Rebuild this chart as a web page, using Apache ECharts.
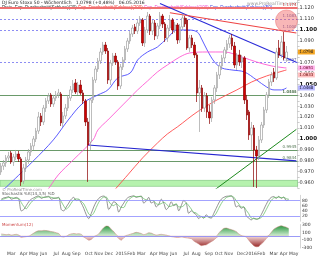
<!DOCTYPE html>
<html><head><meta charset="utf-8">
<script src="https://cdn.jsdelivr.net/npm/echarts@6/dist/echarts.min.js"></script>
<style>html,body{margin:0;padding:0;background:#fff}#c{width:320px;height:256px}</style>
</head><body><div id="c"></div>
<script>
// ---------- data ----------
const startWeek = '2014-02-03';
const weekCount = 120;
const monthLabels = ['Jan','Feb','Mar','Apr','May','Jun','Jul','Aug','Sep','Oct','Nov','Dec'];
// weekly candles [open, close, low, high]
const candles = [
[0.9697,0.9752,0.9670,0.9780],[0.9752,0.9780,0.9716,0.9807],[0.9780,0.9826,0.9743,0.9853],[0.9826,0.9844,0.9798,0.9881],
[0.9872,0.9789,0.9771,0.9890],[0.9789,0.9835,0.9752,0.9862],[0.9835,0.9862,0.9807,0.9899],[0.9862,0.9817,0.9789,0.9890],
[0.9817,0.9606,0.9569,0.9835],[0.9615,0.9734,0.9587,0.9771],[0.9734,0.9807,0.9697,0.9835],[0.9807,0.9881,0.9771,0.9908],
[0.9881,0.9936,0.9844,0.9963],[0.9936,1.0000,0.9899,1.0027],[1.0000,1.0073,0.9972,1.0101],[1.0073,1.0202,1.0046,1.0248],
[1.0211,1.0156,1.0119,1.0238],[1.0156,1.0284,1.0128,1.0312],[1.0284,1.0349,1.0248,1.0376],[1.0349,1.0394,1.0321,1.0422],
[1.0404,1.0321,1.0294,1.0422],[1.0321,1.0376,1.0294,1.0404],[1.0376,1.0404,1.0349,1.0440],[1.0404,1.0422,1.0376,1.0459],
[1.0413,1.0147,1.0119,1.0431],[1.0147,1.0211,1.0110,1.0248],[1.0211,1.0284,1.0183,1.0321],[1.0284,1.0376,1.0257,1.0404],
[1.0376,1.0450,1.0349,1.0486],[1.0450,1.0505,1.0422,1.0541],[1.0514,1.0431,1.0413,1.0550],[1.0431,1.0495,1.0404,1.0523],
[1.0495,1.0422,1.0404,1.0541],[1.0422,1.0349,1.0321,1.0450],[1.0349,1.0156,1.0119,1.0367],[1.0156,0.9945,0.9606,1.0193],
[0.9972,1.0358,0.9899,1.0376],[1.0358,1.0541,1.0330,1.0569],[1.0541,1.0642,1.0514,1.0670],[1.0642,1.0716,1.0615,1.0743],
[1.0716,1.0798,1.0688,1.0835],[1.0798,1.0862,1.0771,1.0890],[1.0862,1.0807,1.0780,1.0890],[1.0807,1.0541,1.0505,1.0835],
[1.0541,1.0697,1.0495,1.0725],[1.0697,1.0761,1.0670,1.0789],[1.0761,1.0706,1.0679,1.0789],[1.0706,1.0486,1.0450,1.0725],
[1.0486,1.0661,1.0459,1.0688],[1.0661,1.0725,1.0633,1.0752],[1.0725,1.0826,1.0706,1.0853],[1.0826,1.0899,1.0798,1.0927],
[1.0899,1.0963,1.0872,1.0991],[1.0963,1.1018,1.0936,1.1046],[1.1028,1.0991,1.0963,1.1055],[1.0991,1.1064,1.0963,1.1092],
[1.1064,1.1101,1.1037,1.1128],[1.1092,1.0881,1.0853,1.1110],[1.0881,1.1000,1.0844,1.1028],[1.1000,1.1128,1.0972,1.1165],
[1.1128,1.0991,1.0954,1.1147],[1.0991,1.1064,1.0954,1.1092],[1.1064,1.0945,1.0908,1.1092],[1.0945,1.1037,1.0917,1.1064],
[1.1037,1.1128,1.1009,1.1165],[1.1128,1.1055,1.1018,1.1147],[1.1055,1.0927,1.0890,1.1073],[1.0927,1.1018,1.0890,1.1046],
[1.1018,1.1092,1.0991,1.1138],[1.1092,1.1000,1.0963,1.1110],[1.1000,1.1046,1.0972,1.1073],[1.1046,1.0908,1.0872,1.1064],
[1.0908,1.1028,1.0881,1.1055],[1.1028,1.1110,1.1000,1.1147],[1.1110,1.1055,1.1028,1.1128],[1.1092,1.0835,1.0817,1.1110],
[1.0835,1.0927,1.0798,1.0954],[1.0927,1.0862,1.0835,1.0954],[1.0862,1.0771,1.0743,1.0890],[1.0771,1.0422,1.0339,1.0789],
[1.0422,1.0468,1.0064,1.0541],[1.0468,1.0284,1.0248,1.0495],[1.0284,1.0394,1.0248,1.0431],[1.0394,1.0248,1.0193,1.0422],
[1.0248,1.0193,1.0138,1.0312],[1.0193,1.0358,1.0156,1.0385],[1.0358,1.0468,1.0321,1.0495],[1.0468,1.0587,1.0431,1.0615],
[1.0587,1.0670,1.0550,1.0706],[1.0670,1.0743,1.0633,1.0771],[1.0743,1.0817,1.0706,1.0844],[1.0817,1.0872,1.0780,1.0908],
[1.0872,1.0927,1.0835,1.0954],[1.0927,1.0853,1.0817,1.0963],[1.0853,1.0679,1.0651,1.0890],[1.0679,1.0771,1.0633,1.0789],
[1.0771,1.0706,1.0670,1.0817],[1.0706,1.0743,1.0651,1.0771],[1.0743,1.0358,1.0321,1.0761],[1.0358,1.0220,1.0174,1.0404],
[1.0248,1.0037,0.9991,1.0266],[1.0037,1.0101,0.9899,1.0156],[1.0101,0.9899,0.9560,1.0128],[0.9899,0.9844,0.9550,0.9936],
[0.9844,0.9991,0.9807,1.0027],[0.9991,1.0128,0.9963,1.0156],[1.0128,1.0266,1.0101,1.0294],[1.0266,1.0404,1.0238,1.0431],
[1.0404,1.0523,1.0376,1.0550],[1.0523,1.0587,1.0486,1.0615],[1.0615,1.0560,1.0523,1.0651],[1.0560,1.0798,1.0541,1.0835],
[1.0835,1.0771,1.0743,1.0908],[1.0771,1.0890,1.0743,1.0945],[1.0890,1.0743,1.0725,1.0982],[1.0743,1.0798,1.0706,1.0853]
];
// moving averages read at sample weeks [weekIndex, value]
const maBlue = [[0,0.9514],[13,0.9800],[21,0.9991],[27,1.0174],[33,1.0330],[39,1.0404],[43,1.0450],[47,1.0560],[52,1.0605],[55,1.0725],[59,1.0798],[63,1.0844],[67,1.0927],[71,1.1000],[75,1.1000],[79,1.0982],[81,1.0908],[83,1.0817],[86,1.0706],[89,1.0651],[93,1.0633],[98,1.0615],[103,1.0541],[107,1.0477],[110,1.0450],[113,1.0450],[115,1.0468]];
const maPink = [[14,0.9440],[18,0.9514],[23,0.9670],[29,0.9807],[37,0.9991],[39,1.0083],[43,1.0174],[47,1.0266],[51,1.0358],[55,1.0450],[59,1.0532],[63,1.0615],[67,1.0679],[72,1.0752],[76,1.0789],[83,1.0798],[90,1.0798],[97,1.0752],[103,1.0706],[109,1.0670],[115,1.0651]];
const maRed = [[45,0.9514],[51,0.9670],[57,0.9826],[63,0.9963],[67,1.0046],[71,1.0110],[79,1.0248],[87,1.0358],[95,1.0450],[101,1.0523],[107,1.0578],[115,1.0633]];
// trend lines [weekIndex, value]
const trendBlueUpper = [[64,1.1243],[119,1.0704]];
const trendRed = [[68,1.1158],[119,1.0972]];
const trendBlueLower = [[35,0.9945],[119,0.9799]];
const trendGreen = [[86,0.9532],[119,1.0088]];
// horizontal levels
const levelRed = 1.1174;
const levelsDotted = [1.1083, 1.1000, 1.0697];
const levelsGreen = [1.0431, 1.0366, 0.9945, 0.9844];
const supportBand = [0.9565, 0.9620];
const circleMark = [115, 1.1083];
// stochastic %K / %D
const stochK = [85,90,92,95,85,88,92,85,40,45,60,75,85,90,95,97,88,92,95,96,85,88,90,92,45,40,55,70,85,92,80,82,70,50,25,10,30,55,75,88,95,97,88,45,60,75,70,35,55,70,85,93,96,98,92,95,97,70,78,92,70,75,55,65,85,70,45,55,75,60,65,40,60,80,70,30,40,32,25,10,18,12,25,15,12,30,50,70,85,92,96,97,98,85,55,60,50,55,20,12,5,12,8,10,25,45,65,82,92,95,88,96,88,93,80,82];
const stochD = [82,86,89,92,91,89,88,88,72,57,48,60,73,83,90,94,93,92,92,94,92,90,88,90,76,59,47,55,70,82,86,85,77,67,48,28,22,32,53,73,86,93,93,77,64,60,68,60,53,53,70,83,91,96,95,95,95,87,82,80,80,79,67,65,68,73,67,57,58,63,67,55,55,60,70,60,47,34,32,22,18,13,18,17,17,19,31,50,68,82,91,95,97,93,79,67,55,55,42,29,12,10,8,10,14,27,45,64,80,90,92,93,91,92,87,85];
const stochLevels = [80, 20];
// momentum
const momentum = [60,50,40,50,30,40,50,30,-30,-20,-10,0,40,80,120,140,140,150,145,135,120,110,90,70,-10,-20,0,40,60,70,60,65,50,-20,-60,-100,-80,-20,20,60,150,220,260,250,180,120,40,-60,-100,-40,20,40,60,80,100,90,70,40,60,90,80,50,30,40,50,40,30,10,-10,-20,-30,-30,-20,-30,-40,-50,-60,-120,-160,-200,-240,-230,-220,-180,-140,-100,-40,80,150,200,210,190,170,150,120,60,20,0,-20,-100,-180,-240,-270,-260,-200,-140,-60,20,100,180,220,250,265,250,230,200];

// ---------- build ----------
const cats = [];
{ const d0 = new Date(startWeek + 'T00:00:00Z');
  for (let i = 0; i < weekCount; i++) { const d = new Date(d0.getTime() + i*7*86400000); cats.push(d.toISOString().slice(0,10)); } }
const isMonthStart = (idx) => idx > 0 && (+cats[idx].slice(8,10)) <= 7;
const monthText = (s) => { const m = +s.slice(5,7); return m === 1 ? s.slice(0,4) : monthLabels[m-1]; };
const padData = (arr) => arr.concat(new Array(weekCount - arr.length).fill('-'));
const momPos = padData(momentum.map(v => v > 0 ? v : 0));
const momNeg = padData(momentum.map(v => v < 0 ? v : 0));
const lastClose = candles[candles.length-1][1];
const lastOf = (arr) => arr[arr.length-1][1];

const chart = echarts.init(document.getElementById('c'), null, {renderer:'canvas'});
const FONT = 'DejaVu Sans';
const axisLblBase = {fontSize:5, color:'#333', fontFamily:FONT, margin:2};
const tag = (val, bg, fg) => ({coord:[weekCount-1, val], symbol:'rect', symbolSize:[17,5], symbolOffset:[10,0],
  itemStyle:{color:bg}, label:{show:true, position:'inside', formatter:val.toFixed(4), fontSize:4, color:fg||'#222', fontFamily:FONT}});
const lineS = (data, color, w, extra) => Object.assign({type:'line', data, symbol:'none', showSymbol:false, smooth:0.35, lineStyle:{color, width:w}, silent:true, z:3}, extra||{});

const option = {
  animation:false,
  backgroundColor:'#ffffff',
  textStyle:{fontFamily:FONT},
  grid:[
    {left:0, width:300, top:0, height:188},
    {left:0, width:300, top:195.3, height:25.9},
    {left:0, width:300, top:224.5, height:24.4}
  ],
  xAxis:[0,1,2].map(g => ({
    type:'category', gridIndex:g, data:cats, boundaryGap:true,
    axisLine:{show:g===2, lineStyle:{color:'#bbb', width:0.6}}, axisTick:{show:false},
    axisLabel: g===2 ? {show:true, fontSize:4.5, color:'#444', fontFamily:FONT, margin:3, hideOverlap:false,
      interval:(idx)=>isMonthStart(idx), formatter:(v)=>monthText(v)} : {show:false},
    splitLine:{show:false}
  })),
  yAxis:[
    {type:'value', gridIndex:0, position:'right', min:0.955, max:1.1275, interval:0.005, scale:true,
     axisLine:{show:true, lineStyle:{color:'#bbb', width:0.6}}, axisTick:{show:true, length:2, lineStyle:{color:'#999', width:0.5}},
     splitLine:{show:false},
     axisLabel:Object.assign({}, axisLblBase, {
       formatter:(v)=>{ const k=Math.round(v*1000); if (k%10!==0) return ''; const s=(k/1000).toFixed(3); return k%50===0 ? '{b|'+s+'}' : s; },
       rich:{b:{fontSize:5.5, fontWeight:'bold', color:'#111', fontFamily:FONT}}})},
    {type:'value', gridIndex:1, position:'right', min:0, max:100, interval:20,
     axisLine:{show:true, lineStyle:{color:'#bbb', width:0.6}}, axisTick:{show:false}, splitLine:{show:false},
     axisLabel:Object.assign({}, axisLblBase, {fontSize:4.5, formatter:(v)=> (v===0||v===100)?'':String(v)})},
    {type:'value', gridIndex:2, position:'right', min:-300, max:300, interval:200,
     axisLine:{show:true, lineStyle:{color:'#bbb', width:0.6}}, axisTick:{show:false}, splitLine:{show:false},
     axisLabel:Object.assign({}, axisLblBase, {fontSize:4.5})}
  ],
  series:[
    {type:'candlestick', xAxisIndex:0, yAxisIndex:0, data:padData(candles), barWidth:2, z:4,
     itemStyle:{color:'#ffffff', color0:'#d10000', borderColor:'#a0a0a0', borderColor0:'#8b0000', borderWidth:0.7},
     markPoint:{silent:true, animation:false, data:[tag(lastClose, '#f5a623', '#222')]},
     markLine:{symbol:'none', silent:true, z:2, animation:false,
       data:[
         {yAxis:levelRed, lineStyle:{color:'#f07070', width:2, type:'solid'}, label:{show:true, position:'insideEndTop', formatter:levelRed.toFixed(4), fontSize:4, color:'#c33', distance:1}},
         ...levelsDotted.map(v=>({yAxis:v, lineStyle:{color:'#7070f0', width:0.8, type:[2,2]}, label:{show:true, position:'insideEndTop', formatter:v.toFixed(4), fontSize:4, color:'#66a', distance:1}})),
         ...levelsGreen.map(v=>({yAxis:v, lineStyle:{color:'#6a9a6a', width:1, type:'solid'}, label:{show:true, position:'insideEndTop', formatter:v.toFixed(4), fontSize:4, color:'#575', distance:1}}))
       ]},
     markArea:{silent:true, itemStyle:{color:'#b6f2ae', borderColor:'#79c179', borderWidth:0.6},
       data:[[{yAxis:supportBand[0]},{yAxis:supportBand[1]}]]}
    },
    lineS(maBlue, '#4a4aff', 0.9, {markPoint:{silent:true, animation:false, data:[tag(lastOf(maBlue), '#b8b8ff', '#113')]}}),
    lineS(maPink, '#ff5ad2', 0.9, {markPoint:{silent:true, animation:false, data:[tag(lastOf(maPink), '#ffb3ea', '#602')]}}),
    lineS(maRed, '#ff4b4b', 0.9, {markPoint:{silent:true, animation:false, data:[Object.assign(tag(lastOf(maRed), '#ffc0c0', '#600'), {symbolOffset:[10,5]})]}}),
    lineS(trendBlueUpper, '#2b2bd8', 1.1, {smooth:false}),
    lineS(trendRed, '#ee4444', 1.1, {smooth:false}),
    lineS(trendBlueLower, '#2626d0', 1.1, {smooth:false}),
    lineS(trendGreen, '#1e8a1e', 1, {smooth:false}),
    {type:'scatter', xAxisIndex:0, yAxisIndex:0, data:[circleMark], symbolSize:22, silent:true, z:5,
     itemStyle:{color:'rgba(240,90,90,0.55)', borderColor:'rgba(230,80,80,0.7)', borderWidth:0.6}},
    // stochastic
    {type:'line', xAxisIndex:1, yAxisIndex:1, data:padData(stochK), symbol:'none', smooth:0.3, lineStyle:{color:'#666', width:0.7}, silent:true,
     markLine:{symbol:'none', silent:true, data:stochLevels.map(v=>({yAxis:v})), lineStyle:{color:'#8c8cff', width:0.8, type:'solid'}, label:{show:false}}},
    {type:'line', xAxisIndex:1, yAxisIndex:1, data:padData(stochD), symbol:'none', smooth:0.3, lineStyle:{color:'#5cb85c', width:0.7}, silent:true},
    // momentum
    {type:'line', xAxisIndex:2, yAxisIndex:2, data:momPos, symbol:'none', smooth:0.2, silent:true,
     lineStyle:{color:'#c9847a', width:0.5},
     areaStyle:{color:new echarts.graphic.LinearGradient(0,0,0,1,[{offset:0,color:'#2f9a45'},{offset:1,color:'#d8f0d8'}]), opacity:1},
     markLine:{symbol:'none', silent:true, data:[{yAxis:0}], lineStyle:{color:'#8c8cff', width:0.8, type:'solid'}, label:{show:false}}},
    {type:'line', xAxisIndex:2, yAxisIndex:2, data:momNeg, symbol:'none', smooth:0.2, silent:true,
     lineStyle:{color:'#c9847a', width:0.5},
     areaStyle:{color:new echarts.graphic.LinearGradient(0,0,0,1,[{offset:0,color:'#f3dada'},{offset:1,color:'#9a2a2a'}]), opacity:1}}
  ],
  graphic:[
    {type:'text', left:2, top:0, style:{text:'DJ Euro Stoxx 50 - Wöchentlich   1,0798 (+0,48%)   06.05.2016', fontSize:4.5, fill:'#222', fontFamily:FONT}},
    {type:'text', left:2, top:5, style:{
      text:'{k|Preis  Exp. Durchschnitt(Schluss)(20)} {r|Exp. Durchschnitt(Schluss)(200)} {p|Exp. Durchschnitt(Schluss)(100)} {b|Exp. Durchschnitt(Schluss)(50)}',
      fontSize:4.5, fontFamily:FONT,
      rich:{k:{fill:'#333',fontSize:4.5},r:{fill:'#e33',fontSize:4.5},p:{fill:'#e4c',fontSize:4.5},b:{fill:'#44d',fontSize:4.5}}}},
    {type:'text', right:22, top:1, style:{text:'www.ProRealTime.com', fontSize:4.5, fill:'#999', fontFamily:FONT}},
    {type:'text', left:2, top:187.5, style:{text:'© ProRealTime.com', fontSize:4, fill:'#999', fontFamily:FONT}},
    {type:'text', left:2, top:192, style:{text:'Stochastik %K(14,3,5) %D', fontSize:4, fill:'#555', fontFamily:FONT}},
    {type:'text', left:2, top:223, style:{text:'Momentum(12)', fontSize:4, fill:'#c44', fontFamily:FONT}}
  ]
};
chart.setOption(option);
</script></body></html>
